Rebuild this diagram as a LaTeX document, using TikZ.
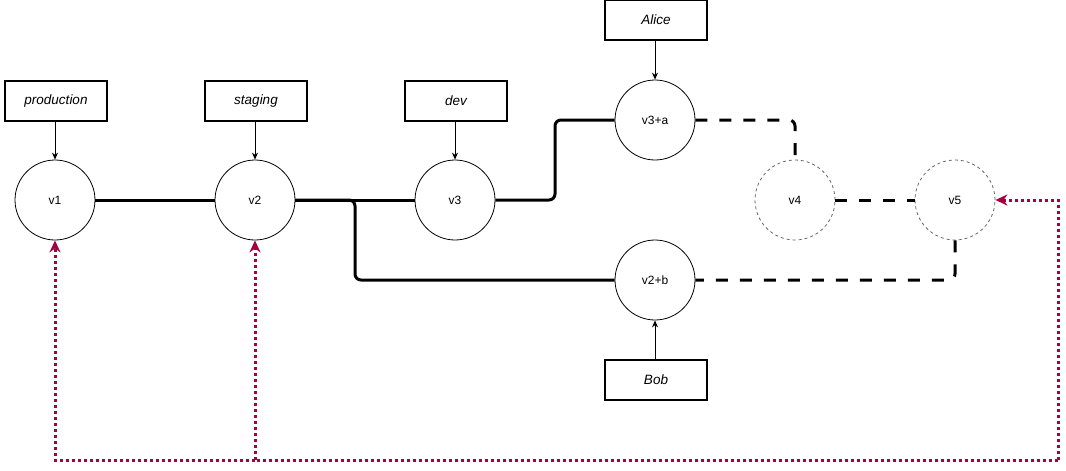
\documentclass[tikz,border=0pt]{standalone}
\usepackage{fontspec}
\setmainfont{Liberation Sans}
\usetikzlibrary{arrows.meta}
\definecolor{crim}{HTML}{A50040}
\begin{document}
\begin{tikzpicture}[x=1pt,y=-1pt,
  ver/.style={circle,draw=black,line width=0.8pt,minimum size=80pt,inner sep=0pt,font=\fontsize{12}{14}\selectfont},
  ghost/.style={circle,draw=black!60,dashed,dash pattern=on 3pt off 3pt,line width=0.8pt,minimum size=80pt,inner sep=0pt,font=\fontsize{12}{14}\selectfont},
  tagbox/.style={rectangle,draw=black,line width=1.2pt,minimum width=102pt,minimum height=40pt,inner sep=0pt,font=\fontsize{13.5}{16}\selectfont\itshape},
  pointer/.style={-{Stealth[length=7pt,width=6pt]},line width=0.8pt},
  thickline/.style={line width=3pt,rounded corners=6pt},
  dashline/.style={line width=3pt,dash pattern=on 12pt off 12pt,rounded corners=6pt},
  ref/.style={draw=crim,line width=3pt,dash pattern=on 3pt off 3pt},
  reftip/.style={-{Stealth[length=12pt,width=11pt]},ref}]
\useasboundingbox (0,0) rectangle (1066,471);
\node[ver] (v1) at (55,200) {v1};
\node[ver] (v2) at (255,200) {v2};
\node[ver] (v3) at (455,200) {v3};
\node[ver] (v3a) at (655,120) {v3+a};
\node[ver] (v2b) at (655,280) {v2+b};
\node[ghost] (v4) at (795,200) {v4};
\node[ghost] (v5) at (955,200) {v5};
\node[tagbox] (prod) at (56,101) {production};
\node[tagbox] (stag) at (256,101) {staging};
\node[tagbox] (dev) at (456,101) {dev};
\node[tagbox] (alice) at (656,20) {Alice};
\node[tagbox] (bob) at (656,380) {Bob};
\draw[pointer] (prod.south -| v1) -- (v1.north);
\draw[pointer] (stag.south -| v2) -- (v2.north);
\draw[pointer] (dev.south -| v3) -- (v3.north);
\draw[pointer] (alice.south -| v3a) -- (v3a.north);
\draw[pointer] (bob.north -| v2b) -- (v2b.south);
\draw[thickline] (v1.east) -- (v2.west);
\draw[thickline] (v2.east) -- (v3.west);
\coordinate (k1) at (555,200);
\coordinate (k2) at (355,200);
\draw[thickline] (v3.east) -- (k1) |- (v3a.west);
\draw[thickline] (v2.east) -- (k2) |- (v2b.west);
\draw[dashline] (v3a.east) -| (v4.north);
\draw[dashline] (v4.east) -- (v5.west);
\draw[dashline] (v5.south) |- (v2b.east);
\coordinate (j) at (255,460);
\coordinate (r) at (1058,460);
\draw[ref] (r) -- (j);
\draw[reftip] (j) -| (v1.south);
\draw[reftip] (j) -- (v2.south);
\draw[reftip] (r) |- (v5.east);
\end{tikzpicture}
\end{document}
